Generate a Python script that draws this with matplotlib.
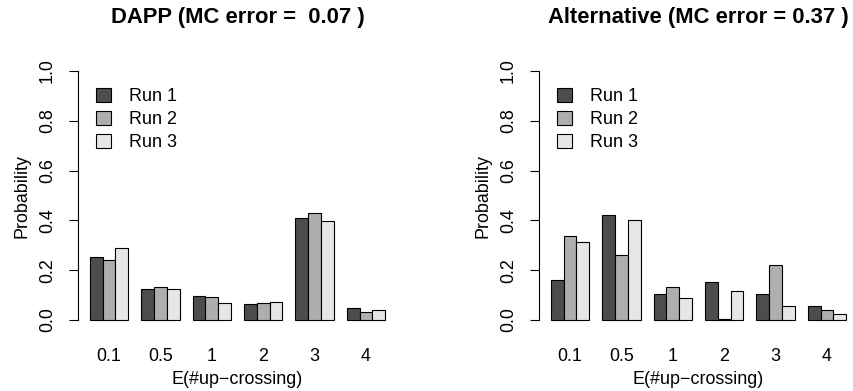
import matplotlib
matplotlib.use("Agg")
import matplotlib.pyplot as plt
import numpy as np

plt.rcParams['font.family'] = ['Liberation Sans', 'DejaVu Sans']

categories = ["0.1", "0.5", "1", "2", "3", "4"]
runs = ["Run 1", "Run 2", "Run 3"]

dapp_run1 = [0.254, 0.126, 0.095, 0.066, 0.410, 0.047]
dapp_run2 = [0.241, 0.134, 0.094, 0.067, 0.428, 0.032]
dapp_run3 = [0.290, 0.126, 0.068, 0.074, 0.398, 0.039]

alt_run1 = [0.162, 0.423, 0.106, 0.151, 0.103, 0.055]
alt_run2 = [0.339, 0.262, 0.131, 0.004, 0.221, 0.039]
alt_run3 = [0.312, 0.400, 0.090, 0.115, 0.058, 0.023]

titles = ["DAPP (MC error =  0.07 )", "Alternative (MC error = 0.37 )"]
colors = ["#4D4D4D", "#AEAEAE", "#E6E6E6"]

W, H = 854, 391
fig = plt.figure(figsize=(W / 100, H / 100), dpi=100)

panels = [
    (78, [dapp_run1, dapp_run2, dapp_run3]),
    (539, [alt_run1, alt_run2, alt_run3]),
]

label_pt = 12.9
for (left_px, series), title in zip(panels, titles):
    ax = fig.add_axes([left_px / W, (H - 330) / H, 319 / W, 269 / H])
    n = len(categories)
    group_start = 1 + 4 * np.arange(n)
    for r, vals in enumerate(series):
        ax.bar(group_start + r, vals, width=1.0, align='edge',
               color=colors[r], edgecolor='black', linewidth=0.8,
               label=runs[r])
    ax.set_xlim(1 - 0.92, 24 + 0.92)
    ax.set_ylim(-0.04, 1.04)
    for s in ['top', 'right', 'bottom']:
        ax.spines[s].set_visible(False)
    ax.spines['left'].set_bounds(0, 1)
    ax.spines['left'].set_linewidth(0.8)
    yt = [0.0, 0.2, 0.4, 0.6, 0.8, 1.0]
    ax.set_yticks(yt)
    ax.set_yticklabels([f"{v:.1f}" for v in yt], rotation=90, va='center',
                       fontsize=label_pt)
    ax.tick_params(axis='y', length=6.5, width=0.8, pad=9.5)
    ax.set_xticks(group_start + 1.5)
    ax.set_xticklabels(categories, fontsize=label_pt)
    ax.tick_params(axis='x', length=0, pad=13)
    ax.set_xlabel("E(#up\u2212crossing)", fontsize=label_pt, labelpad=4)
    ax.set_ylabel("Probability", fontsize=label_pt, labelpad=6)
    ax.set_title(title, fontsize=15.8, fontweight='bold', pad=27)
    ax.legend(loc='upper left', bbox_to_anchor=(0.035, 0.925),
              frameon=False, fontsize=label_pt, handlelength=0.8,
              handleheight=0.8, handletextpad=1.0, labelspacing=0.33,
              borderaxespad=0)

fig.savefig("out.png", dpi=100)
